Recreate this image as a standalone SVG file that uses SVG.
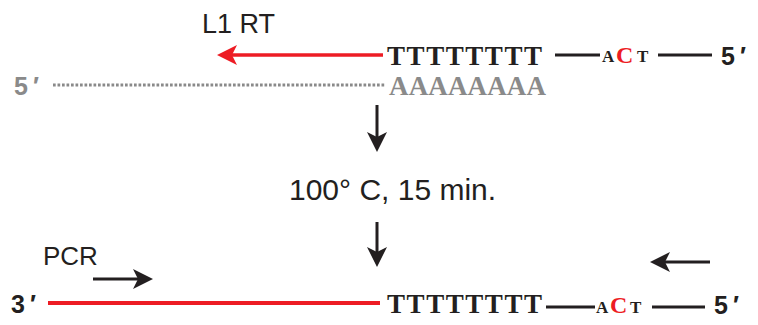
<svg xmlns="http://www.w3.org/2000/svg" width="758" height="325" viewBox="0 0 758 325">
<style>
.lbl{font-family:"Liberation Sans",Arial,sans-serif;fill:#231f20}
.end{font-family:"Liberation Sans",Arial,sans-serif;font-weight:bold;font-size:25px;letter-spacing:5px;fill:#231f20}
.seq{font-family:"Liberation Serif","Times New Roman",serif;font-weight:bold;fill:#231f20}
.red{fill:#ed1c24}
.gray{fill:#8a8a8a}
.blk{stroke:#231f20;stroke-width:3;fill:none}
</style>
<defs>
<marker id="ah" markerUnits="userSpaceOnUse" viewBox="-1 -12 24 24" markerWidth="24" markerHeight="24" refX="5" refY="0" orient="auto">
<path d="M20,0 L0,-10 L5,0 L0,10 Z" fill="#231f20"/>
</marker>
<marker id="ahr" markerUnits="userSpaceOnUse" viewBox="-1 -12 24 24" markerWidth="24" markerHeight="24" refX="5" refY="0" orient="auto">
<path d="M20,0 L0,-10 L5,0 L0,10 Z" fill="#ed1c24"/>
</marker>
</defs>
<g id="top-strand">
<text class="seq" x="387" y="65" font-size="27" textLength="155" lengthAdjust="spacing">TTTTTTTT</text>
<line class="blk" x1="555" y1="55" x2="600" y2="55"/>
<text class="seq" x="602" y="62" font-size="17">A</text>
<text class="seq red" x="616" y="63" font-size="24">C</text>
<text class="seq" x="637" y="62" font-size="17">T</text>
<line class="blk" x1="658" y1="55" x2="712" y2="55"/>
<text class="end" x="721" y="65">5′</text>
</g>
<g id="template-strand">
<text class="end gray" x="14" y="95">5′</text>
<line x1="53" y1="85" x2="386" y2="85" stroke="#8a8a8a" stroke-width="3" stroke-dasharray="2.7 1.8"/>
<text class="seq gray" x="389" y="95" font-size="27" textLength="157" lengthAdjust="spacing">AAAAAAAA</text>
</g>
<g id="label-l1rt">
<text class="lbl" x="202" y="33" font-size="27">L1 RT</text>
</g>
<g id="label-heat">
<text class="lbl" x="289" y="200" font-size="30">100° C, 15 min.</text>
</g>
<g id="label-pcr">
<text class="lbl" x="43" y="265" font-size="26">PCR</text>
</g>
<g id="bottom-strand">
<text class="end" x="11" y="313">3′</text>
<line x1="48" y1="303" x2="380" y2="303" stroke="#ed1c24" stroke-width="4"/>
<text class="seq" x="387" y="313" font-size="27" textLength="155" lengthAdjust="spacing">TTTTTTTT</text>
<line class="blk" x1="546" y1="307" x2="595" y2="307"/>
<text class="seq" x="596" y="313" font-size="17">A</text>
<text class="seq red" x="610" y="313" font-size="24">C</text>
<text class="seq" x="630" y="313" font-size="17">T</text>
<line class="blk" x1="652" y1="307" x2="705" y2="307"/>
<text class="end" x="714" y="314">5′</text>
</g>
<g id="connectors">
<line x1="383" y1="55" x2="232" y2="55" stroke="#ed1c24" stroke-width="3.5" marker-end="url(#ahr)"/>
<line class="blk" x1="377" y1="105" x2="377" y2="137" marker-end="url(#ah)"/>
<line class="blk" x1="377" y1="222" x2="377" y2="252" marker-end="url(#ah)"/>
<line class="blk" x1="93" y1="279" x2="138" y2="279" marker-end="url(#ah)"/>
<line class="blk" x1="710" y1="262" x2="665" y2="262" marker-end="url(#ah)"/>
</g>
</svg>
